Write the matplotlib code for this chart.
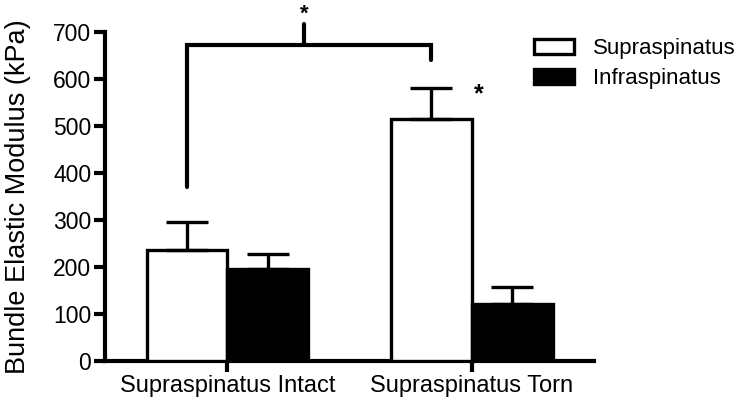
import matplotlib
matplotlib.use("Agg")
import matplotlib.pyplot as plt
import numpy as np

plt.rcParams["font.family"] = ["Liberation Sans", "DejaVu Sans"]

groups = ["Supraspinatus Intact", "Supraspinatus Torn"]
series = ["Supraspinatus", "Infraspinatus"]
supra_mean = [236, 515]
supra_sem = [60, 65]
infra_mean = [195, 121]
infra_sem = [33, 36]

# significance bracket between the two supraspinatus bars
bracket_y = 672
bracket_left_bottom = 370
bracket_right_bottom = 640
bracket_tick_top = 718
star_top_y = 737

fig = plt.figure(figsize=(7.38, 4.01), dpi=100)
ax = fig.add_axes([0.1423, 0.0998, 0.805 - 0.1423, 0.920 - 0.0998])

x = np.arange(len(groups))
w = 0.33
lw = 2.4
err_kw = dict(ecolor="black", elinewidth=lw, capsize=15, capthick=lw)

ax.bar(x - w / 2, supra_mean, w, color="white", edgecolor="black", linewidth=lw,
       yerr=[[0, 0], supra_sem], error_kw=err_kw, label=series[0], zorder=3)
ax.bar(x + w / 2, infra_mean, w, color="black", edgecolor="black", linewidth=lw,
       yerr=[[0, 0], infra_sem], error_kw=err_kw, label=series[1], zorder=3)

ax.set_xlim(-0.5, 1.5)
ax.set_ylim(0, 700)
ax.set_yticks(range(0, 701, 100))
ax.set_xticks(x)
ax.set_xticklabels(groups, fontsize=17)
ax.tick_params(axis="y", labelsize=16.5, width=3, length=8, pad=2)
ax.tick_params(axis="x", width=3, length=8, pad=2)
for s in ["top", "right"]:
    ax.spines[s].set_visible(False)
for s in ["left", "bottom"]:
    ax.spines[s].set_linewidth(3)
ax.set_ylabel("Bundle Elastic Modulus (kPa)", fontsize=19.5, labelpad=16)

# bracket
xl = x[0] - w / 2
xr = x[1] - w / 2
xm = (xl + xr) / 2 - 0.02
kw = dict(color="black", lw=3, solid_capstyle="round", solid_joinstyle="miter", clip_on=False, zorder=4)
ax.plot([xl, xl, xr, xr], [bracket_left_bottom, bracket_y, bracket_y, bracket_right_bottom], **kw)
ax.plot([xm, xm], [bracket_y, bracket_tick_top], **kw)
ax.text(xm, star_top_y, "*", ha="center", va="center", fontsize=16, fontweight="bold")
ax.text(x[1] + 0.03, supra_mean[1] + supra_sem[1] - 12, "*", ha="center", va="center",
        fontsize=18, fontweight="bold")

leg = ax.legend(loc="upper left", bbox_to_anchor=(0.697, 0.955), bbox_transform=fig.transFigure,
                frameon=False, fontsize=16, handlelength=1.8, handleheight=0.68,
                handletextpad=0.82, labelspacing=0.42)

fig.savefig("out.png", dpi=100)
